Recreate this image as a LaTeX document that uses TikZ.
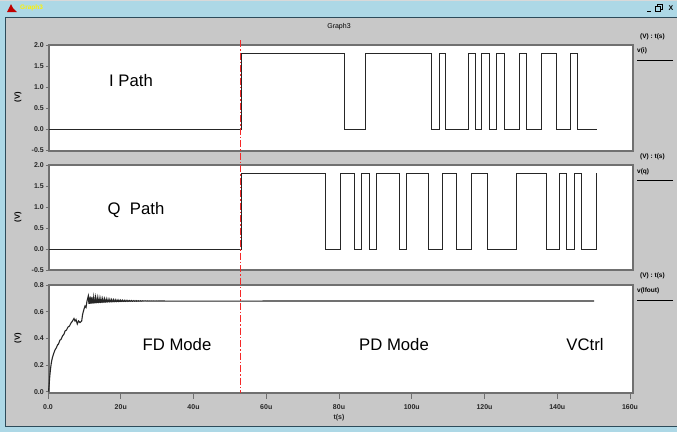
\documentclass[tikz,border=0pt]{standalone}
\usepackage{fontspec}
\setmainfont{Liberation Sans}
\usepackage{xcolor}
\usetikzlibrary{positioning}

\definecolor{panelgray}{RGB}{200,200,200}
\definecolor{titleblue}{RGB}{173,216,230}
\definecolor{framedark}{RGB}{45,75,90}
\definecolor{boxgray}{RGB}{112,112,112}
\definecolor{markred}{RGB}{245,40,40}

\begin{document}
\begin{tikzpicture}[
        x=1pt, y=-1pt,
        plotbox/.style={draw=boxgray, line width=1.2pt, fill=white},
        signal/.style={draw=black!85, line width=0.9pt},
        ticklabel/.style={font=\fontsize{7}{8}\selectfont\bfseries, text=black!85, inner sep=0pt},
        legendtext/.style={font=\fontsize{6.5}{7}\selectfont\bfseries, inner sep=0pt, anchor=west},
        modelabel/.style={font=\fontsize{16.7}{18}\selectfont, inner sep=0pt},
        unitlabel/.style={font=\fontsize{7.5}{8}\selectfont\bfseries, rotate=90, inner sep=0pt}
    ]

        \useasboundingbox (0,0) rectangle (677,432);

        % window
        \fill[titleblue] (0,0) rectangle (677,432);
        \draw[gray!30, line width=1pt] (0,0.5) -- (677,0.5);
        \fill[panelgray] (5,17) rectangle (677,427);
        \draw[
            framedark,
            line width=1.2pt
            ] (5.6,17.6) rectangle (680,426.4);

        % title bar
        \fill[red!75!black] (7,12) -- (11,4) -- (13,8) -- (17,12) -- cycle;
        \node[anchor=west, text=yellow, font=\fontsize{6.5}{7}\selectfont\bfseries, inner sep=0pt] (wintitle) at (20,8) {Graph3};
        \draw[black, line width=0.8pt] (647,11) -- (651,11);
        \draw[black, line width=0.6pt] (655,6) rectangle (660,11);
        \draw[black, line width=0.6pt] (657,6) -- (657,4) -- (662,4) -- (662,9) -- (660,9);
        \node[font=\fontsize{7}{8}\selectfont\bfseries, inner sep=0pt] (btnclose) at (671,8) {X};

        \node[font=\fontsize{7}{8}\selectfont, inner sep=0pt] (graphtitle) at (339,27) {Graph3};

        % plot areas
        \draw[plotbox] (49,45) rectangle (633,151);
        \draw[plotbox] (49,165) rectangle (633,270);
        \draw[plotbox] (49,285) rectangle (633,393);

        % y axes
        \foreach \v/\lab in {0/2.0,1/1.5,2/1.0,3/0.5,4/0.0,5/-0.5} {
            \draw[boxgray, line width=0.8pt] (45.5,45+21*\v) -- (49,45+21*\v);
            \node[ticklabel, anchor=east] (iy\v) at (44,45+21*\v) {\lab};
            \draw[boxgray, line width=0.8pt] (45.5,165+21*\v) -- (49,165+21*\v);
            \node[ticklabel, anchor=east] (qy\v) at (44,165+21*\v) {\lab};
        }
        \foreach \v/\lab in {0/0.8,1/0.6,2/0.4,3/0.2,4/0.0} {
            \draw[boxgray, line width=0.8pt] (45.5,285+26.7*\v) -- (49,285+26.7*\v);
            \node[ticklabel, anchor=east] (fy\v) at (44,285+26.7*\v) {\lab};
        }
        \node[unitlabel] (iunit) at (18,97) {(V)};
        \node[unitlabel] (qunit) at (18,217) {(V)};
        \node[unitlabel] (funit) at (18,338) {(V)};

        % x axis
        \foreach \k/\lab in {0/0.0,1/20u,2/40u,3/60u,4/80u,5/100u,6/120u,7/140u,8/160u} {
            \draw[boxgray, line width=0.8pt] (48+72.75*\k,393) -- (48+72.75*\k,399);
            \node[ticklabel] (tx\k) at (48+72.75*\k,407) {\lab};
        }
        \node[ticklabel] (tlabel) at (339,418) {t(s)};

        % v(i)
        \draw[signal] (49,129) -| (241.7,53.4) -| (344,129) -| (365.7,53.4)
            -| (431.7,129) -| (439,53.4) -| (445.7,129) -| (468.3,53.4)
            -| (475,129) -| (481.7,53.4) -| (489,129) -| (496.7,53.4)
            -| (504,129) -| (519,53.4) -| (526.7,129) -| (541,53.4)
            -| (556,129) -| (570.7,53.4) -| (577.7,129) -- (596.7,129);

        % v(q)
        \draw[signal] (49,249) -| (241.7,173.4) -| (325.7,249) -| (340,173.4)
            -| (354.3,249) -| (361.7,173.4) -| (369,249) -| (376.7,173.4)
            -| (399,249) -| (406.7,173.4) -| (428.3,249) -| (442.7,173.4)
            -| (456.7,249) -| (471.7,173.4) -| (487,249) -| (516,173.4)
            -| (546,249) -| (559.3,173.4) -| (566,249) -| (574,173.4)
            -| (581,249) -| (596,173.4);

        % v(lfout)
        \draw[signal, line width=1.1pt] (48.5,391.5) -- (49.2,384) -- (49.8,376)
            -- (50.5,369) -- (51.3,363) -- (52.3,358) -- (53.5,354) -- (55,350)
            -- (56.5,347.5) -- (57.5,345) -- (58.5,344) -- (60,340) -- (61,339.5)
            -- (62.5,336) -- (64,334) -- (65,331) -- (66.5,330) -- (68,327)
            -- (69.5,326) -- (71,323) -- (72.5,321) -- (74,318.5) -- (75,321)
            -- (76,319.5) -- (77.3,324) -- (78.5,321) -- (80,322.5) -- (81.7,321)
            -- (82.5,315) -- (83.3,311.7) -- (84.2,308.5) -- (85,306) -- (86,307.5)
            -- (87,301) -- (88.3,296)
            -- plot[domain=88.3:165, samples=129] (\x, {301-5*exp(-(\x-88.3)/18)*cos(200*(\x-88.3))})
            -- (594,301);

        % switch instant
        \draw[
            markred,
            line width=1.1pt,
            dash pattern=on 7pt off 2pt on 1.5pt off 2pt
            ] (240.6,40) -- (240.6,393);

        % texts in the plots
        \node[modelabel] (ipath) at (131,81) {I Path};
        \node[modelabel] (qpath) at (136,210) {Q\ \ Path};
        \node[modelabel] (fdmode) at (177,345) {FD Mode};
        \node[modelabel] (pdmode) at (394,345) {PD Mode};
        \node[modelabel] (vctrl) at (585,345) {VCtrl};

        % legends
        \node[legendtext] (iaxes) at (640,37) {(V) : t(s)};
        \node[legendtext] (itrace) at (637,51) {v(i)};
        \draw[black, line width=0.8pt] (637,60) -- (673,60);
        \node[legendtext] (qaxes) at (640,157) {(V) : t(s)};
        \node[legendtext] (qtrace) at (637,172) {v(q)};
        \draw[black, line width=0.8pt] (637,180) -- (673,180);
        \node[legendtext] (faxes) at (640,276) {(V) : t(s)};
        \node[legendtext] (ftrace) at (637,291) {v(lfout)};
        \draw[black, line width=0.8pt] (637,300) -- (673,300);

\end{tikzpicture}
\end{document}
